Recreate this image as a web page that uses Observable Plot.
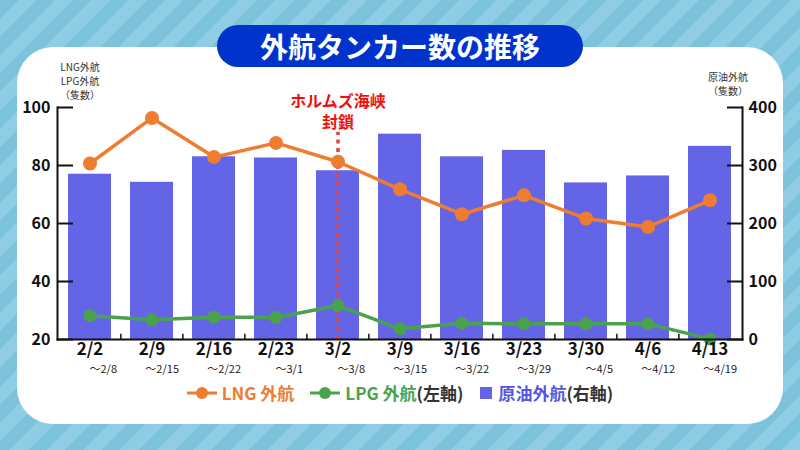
<!DOCTYPE html>
<html>
<head>
<meta charset="utf-8">
<script src="https://cdn.jsdelivr.net/npm/d3@7"></script>
<script src="https://cdn.jsdelivr.net/npm/@observablehq/plot@0.6"></script>
<style>
  html, body { margin: 0; padding: 0; }
  body { width: 800px; height: 450px; overflow: hidden; position: relative;
    font-family: "Noto Sans CJK JP", "Noto Sans", sans-serif;
    background: repeating-linear-gradient(135deg, #7cc2db 0 13px, #8ecde3 13px 26px); }
  #card { position: absolute; left: 17px; top: 47px; width: 766px; height: 377px; background: #fff; border-radius: 36px; }
  #title { position: absolute; left: 217px; top: 25px; width: 366px; height: 42px; border-radius: 21px;
    background: #0033cc; color: #fff; font-weight: 700; font-size: 28px; line-height: 42px; text-align: center; }
  #chart { position: absolute; left: 0; top: 0; }
  .axt { position: absolute; font-size: 10px; line-height: 14px; height: 14px; color: #333; text-align: center; width: 70px; white-space: nowrap; }
  #legend { position: absolute; left: 0; top: 380px; width: 800px; display: flex; justify-content: center; align-items: center;
    font-size: 17px; font-weight: 700; }
  #legend .item { display: flex; align-items: center; margin: 0 8px; }
  #legend svg { margin-right: 5px; }
  .gray { color: #333; }
</style>
</head>
<body>
<div id="card"></div>
<div id="title">外航タンカー数の推移</div>
<div id="chart"></div>
<div class="axt" style="left:45px; top:60px;">LNG外航</div>
<div class="axt" style="left:45px; top:74px;">LPG外航</div>
<div class="axt" style="left:45px; top:88px;">（隻数）</div>
<div class="axt" style="left:693px; top:70px;">原油外航</div>
<div class="axt" style="left:693px; top:84px;">（隻数）</div>
<div id="legend"></div>
<script>
const weeks = ["2/2","2/9","2/16","2/23","3/2","3/9","3/16","3/23","3/30","4/6","4/13"];
const weekEnds = ["〜2/8","〜2/15","〜2/22","〜3/1","〜3/8","〜3/15","〜3/22","〜3/29","〜4/5","〜4/12","〜4/19"];
const lng = [80.7, 96.4, 82.9, 87.8, 81.3, 71.8, 63.2, 69.7, 61.7, 58.8, 68.0];
const lpg = [28.2, 26.8, 27.7, 27.6, 31.7, 23.7, 25.6, 25.4, 25.4, 25.4, 20.2];
const crude = [285, 271, 315, 313, 291, 354, 315, 326, 270, 282, 333];
const leftTicks = [20, 40, 60, 80, 100];
const rightTicks = [0, 100, 200, 300, 400];
const eventWeek = "3/2";
const eventLabel = "ホルムズ海峡\n封鎖";

const orange = "#ee7d31", green = "#4aa34c", blue = "#6464e6", red = "#e0453f";
const leftDomain = [20, 100], rightDomain = [0, 400];
const toLeft = v => leftDomain[0] + (v - rightDomain[0]) * (leftDomain[1] - leftDomain[0]) / (rightDomain[1] - rightDomain[0]);
const fromLeft = v => rightDomain[0] + (v - leftDomain[0]) * (rightDomain[1] - rightDomain[0]) / (leftDomain[1] - leftDomain[0]);

const data = weeks.map((w, i) => ({week: w, end: weekEnds[i], lng: lng[i], lpg: lpg[i], crude: crude[i]}));

const W = 800, mL = 57, mR = 58;
const nB = weeks.length, pIn = 0.3, pOut = 0.15;
const step = (W - mL - mR) / (nB - pIn + 2 * pOut);

const chart = Plot.plot({
  width: W, height: 400,
  marginLeft: mL, marginRight: mR, marginTop: 107, marginBottom: 61,
  style: {fontFamily: '"Noto Sans CJK JP", "Noto Sans", sans-serif', background: "transparent", color: "#111", overflow: "visible"},
  x: {domain: weeks, paddingInner: pIn, paddingOuter: pOut, axis: null},
  y: {domain: leftDomain, axis: null},
  marks: [
    Plot.barY(data, {x: "week", y1: leftDomain[0], y2: d => toLeft(d.crude), fill: blue}),
    Plot.ruleX([eventWeek], {x: d => d, y1: leftDomain[0], y2: 91.5, stroke: red, strokeWidth: 3.5, strokeDasharray: "4,4.5"}),
    Plot.text([eventWeek], {x: d => d, y: 100, text: () => eventLabel, dy: -16, lineAnchor: "top", lineHeight: 1.35, fill: "#f01010", fontSize: 16, fontWeight: 700}),
    Plot.line(data, {x: "week", y: "lpg", stroke: green, strokeWidth: 3.5}),
    Plot.dot(data, {x: "week", y: "lpg", r: 6.5, fill: green}),
    Plot.line(data, {x: "week", y: "lng", stroke: orange, strokeWidth: 3.5}),
    Plot.dot(data, {x: "week", y: "lng", r: 7, fill: orange}),
    Plot.ruleX(data.slice(1), {x: "week", dx: -step / 2, y1: leftDomain[0], y2: leftDomain[0] + 1.8, stroke: "#111", strokeWidth: 1.5}),
    Plot.frame({anchor: "left", stroke: "#111", strokeWidth: 2}),
    Plot.frame({anchor: "right", stroke: "#111", strokeWidth: 2}),
    Plot.frame({anchor: "bottom", stroke: "#111", strokeWidth: 2}),
    Plot.axisY({anchor: "left", ticks: leftTicks, tickSize: -16, tickPadding: 23, strokeWidth: 2, fontSize: 16, fontWeight: 700, label: null}),
    Plot.axisY({anchor: "right", ticks: rightTicks.map(toLeft), tickFormat: d => String(Math.round(fromLeft(d))), tickSize: -16, tickPadding: 22, strokeWidth: 2, fontSize: 16, fontWeight: 700, label: null}),
    Plot.text(data, {x: "week", frameAnchor: "bottom", text: "week", dy: 15.5, fontSize: 17, fontWeight: 700, fill: "#111"}),
    Plot.text(data, {x: "week", frameAnchor: "bottom", text: "end", dy: 33, dx: 27, textAnchor: "end", fontSize: 11, fill: "#222"})
  ]
});
document.getElementById("chart").appendChild(chart);

// legend
const legendItems = [
  {type: "line", color: orange, label: "LNG 外航", note: ""},
  {type: "line", color: green, label: "LPG 外航", note: "(左軸)"},
  {type: "rect", color: blue, label: "原油外航", note: "(右軸)"}
];
const lg = document.getElementById("legend");
legendItems.forEach(it => {
  const el = document.createElement("div");
  el.className = "item";
  const sw = it.type === "line"
    ? `<svg width="30" height="14"><line x1="0" y1="7" x2="30" y2="7" stroke="${it.color}" stroke-width="3"/><circle cx="15" cy="7" r="6" fill="${it.color}"/></svg>`
    : `<svg width="14" height="14"><rect x="1" y="1" width="12" height="12" fill="${it.color}"/></svg>`;
  el.innerHTML = sw + `<span style="color:${it.color === blue ? '#5555e0' : it.color}">${it.label}</span>` + (it.note ? `<span class="gray">${it.note}</span>` : "");
  lg.appendChild(el);
});
</script>
</body>
</html>
